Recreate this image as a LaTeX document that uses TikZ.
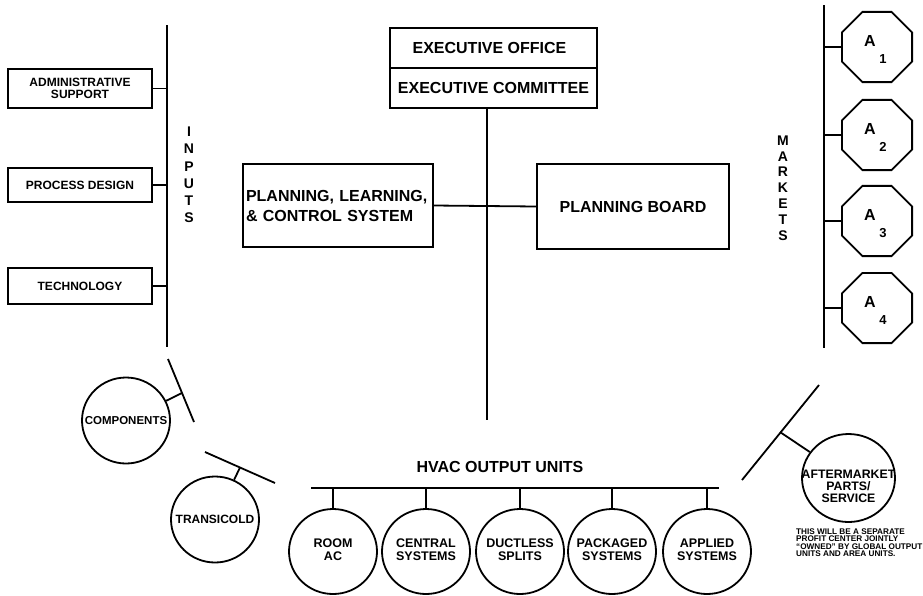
\documentclass[tikz,border=0pt]{standalone}
\usepackage{fontspec}
\setmainfont{Liberation Sans}
\usetikzlibrary{shapes.geometric}
\begin{document}
\begin{tikzpicture}[x=1pt,y=-1pt,
  ln/.style={line width=1.8pt},
  box/.style={draw,line width=1.8pt,rectangle,inner sep=0pt,font=\bfseries\fontsize{12}{12.5}\selectfont,align=center},
  bigbox/.style={draw,line width=1.8pt,rectangle,inner sep=0pt,font=\bfseries\fontsize{16}{20}\selectfont,align=center},
  unit/.style={draw,line width=1.8pt,ellipse,inner sep=0pt,minimum width=88pt,minimum height=85pt},
  utext/.style={inner sep=0pt,align=center,font=\bfseries\fontsize{12.5}{13}\selectfont},
  oct/.style={draw,line width=1.8pt,regular polygon,regular polygon sides=8,inner sep=0pt,minimum size=76pt},
  vlab/.style={font=\bfseries\fontsize{14}{17.2}\selectfont,align=center,inner sep=0pt},
  alab/.style={font=\bfseries\fontsize{16}{16}\selectfont,inner sep=0pt},
  slab/.style={font=\bfseries\fontsize{13}{13}\selectfont,inner sep=0pt}
]
\useasboundingbox (0,0) rectangle (923,595);
% inputs
\coordinate (intop) at (167,25);
\coordinate (inbot) at (167,347);
\draw[ln] (intop) -- (inbot);
\node[box,minimum width=144pt,minimum height=39pt] (adm) at (80,88.5) {ADMINISTRATIVE\\SUPPORT};
\node[box,minimum width=144pt,minimum height=34pt] (pd) at (80,185) {PROCESS DESIGN};
\node[box,minimum width=144pt,minimum height=36pt] (tech) at (80,286) {TECHNOLOGY};
\draw[ln] (adm.east) -- (adm.east -| intop);
\draw[ln] (pd.east) -- (pd.east -| intop);
\draw[ln] (tech.east) -- (tech.east -| intop);
\node[vlab] (inputs) at (189,175) {I\\N\\P\\U\\T\\S};
% executive
\node[bigbox,minimum width=207pt,minimum height=40pt] (exo) at (493.5,48) {\hspace*{-8pt}EXECUTIVE OFFICE};
\node[bigbox,minimum width=207pt,minimum height=40pt] (exc) at (493.5,88) {EXECUTIVE COMMITTEE};
\coordinate (cbot) at (487,420);
\draw[ln] (exc.south -| cbot) -- (cbot);
\node[bigbox,minimum width=190pt,minimum height=83pt,text width=184pt,align=left,inner xsep=3pt] (plcs) at (338,205.5) {PLANNING, LEARNING,\\\& CONTROL SYSTEM};
\node[bigbox,minimum width=192pt,minimum height=85pt] (pb) at (633,206.5) {PLANNING BOARD};
\draw[ln] (plcs.east) -- (pb.west);
% markets
\coordinate (mtop) at (824,5);
\coordinate (mbot) at (824,348);
\draw[ln] (mtop) -- (mbot);
\node[vlab,font=\bfseries\fontsize{14}{15.8}\selectfont] (markets) at (783,188) {M\\A\\R\\K\\E\\T\\S};
\foreach \i/\y in {1/47,2/135,3/221,4/308}{
  \node[oct] (a\i) at (877,\y) {};
  \node[alab] (al\i) at (870,\y-6) {A};
  \node[slab] (as\i) at (883,\y+12) {\i};
  \draw[ln] (a\i.west -| mtop) -- (a\i.west);
}
% components / transicold
\node[unit,minimum width=88pt,minimum height=86pt] (comp) at (126,420.5) {};
\node[utext,font=\bfseries\fontsize{11.5}{13}\selectfont] (compt) at (comp.center) {COMPONENTS};
\coordinate (c1) at (168,359);
\coordinate (c2) at (194,422);
\coordinate (cs) at (182,393);
\draw[ln] (c1) -- (c2);
\draw[ln] (cs) -- (comp);
\node[unit,minimum width=88pt,minimum height=86pt] (trans) at (215,519.5) {};
\node[utext,font=\bfseries\fontsize{12}{13}\selectfont] (transt) at (trans.center) {TRANSICOLD};
\coordinate (t1) at (205,452);
\coordinate (t2) at (275,483);
\coordinate (ts) at (240,467.5);
\draw[ln] (t1) -- (t2);
\draw[ln] (ts) -- (trans);
% HVAC output units
\node[font=\bfseries\fontsize{16}{18}\selectfont,inner sep=0pt] (hvac) at (500,467) {HVAC OUTPUT UNITS};
\coordinate (b1) at (311,488);
\coordinate (b2) at (719,488);
\draw[ln] (b1) -- (b2);
\foreach \n/\x/\t in {room/333/{ROOM\\AC},central/426/{CENTRAL\\SYSTEMS},ductless/520/{DUCTLESS\\SPLITS},packaged/612/{PACKAGED\\SYSTEMS},applied/707/{APPLIED\\SYSTEMS}}{
  \node[unit] (\n) at (\x,551.5) {};
  \node[utext] (\n-t) at (\x,550) {\t};
  \draw[ln] (\n.north |- b1) -- (\n.north);
}
% aftermarket
\node[unit,minimum width=93pt,minimum height=88pt] (after) at (848.5,478) {};
\node[utext,font=\bfseries\fontsize{12.3}{12}\selectfont] (aftert) at (848.5,486) {AFTERMARKET\\PARTS/\\SERVICE};
\coordinate (f1) at (742,480);
\coordinate (f2) at (819,385);
\coordinate (fs) at (780,432);
\draw[ln] (f1) -- (f2);
\draw[ln] (fs) -- (after);
\node[anchor=north west,inner sep=0pt,align=left,font=\bfseries\fontsize{8.2}{7.4}\selectfont] (note) at (796,528.5) {THIS WILL BE A SEPARATE\\PROFIT CENTER JOINTLY\\“OWNED” BY GLOBAL OUTPUT\\UNITS AND AREA UNITS.};
\end{tikzpicture}
\end{document}
